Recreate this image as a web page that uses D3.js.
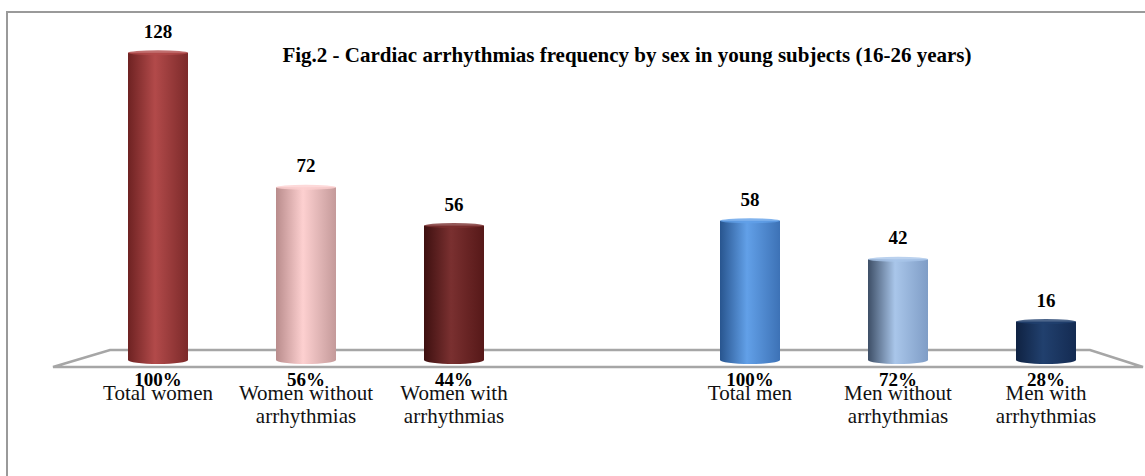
<!DOCTYPE html>
<html>
<head>
<meta charset="utf-8">
<script src="https://cdn.jsdelivr.net/npm/d3@7"></script>
<style>
  body { margin: 0; background: #fff; }
  svg { display: block; font-family: "Liberation Serif", "Times New Roman", serif; }
</style>
</head>
<body>
<svg width="1145" height="476"></svg>
<script>
// data
const categories = ["Total women", "Women without arrhythmias", "Women with arrhythmias",
                    "Total men", "Men without arrhythmias", "Men with arrhythmias"];
const counts = [128, 72, 56, 58, 42, 16];
const percents = ["100%", "56%", "44%", "100%", "72%", "28%"];
const title = "Fig.2 - Cardiac arrhythmias frequency by sex in young subjects (16-26 years)";

// colours: [edge, highlight, far edge]
const shades = [
    ["#6e2222", "#b24a4a", "#7c2a2a"],
    ["#b98c8c", "#fdd0d0", "#c49a9a"],
    ["#3e1010", "#7a3030", "#561818"],
    ["#28558f", "#62a0e8", "#3d72b6"],
    ["#3d4e66", "#a9c6ea", "#7f9dc6"],
    ["#0f2242", "#21406e", "#142b52"]
];

const svg = d3.select("svg");

// slot for each bar: empty slot between women and men
const slot = categories.map((c, i) => i < 3 ? i : i + 1);

const x = d3.scaleBand()
    .domain(d3.range(7))
    .range([84, 1120])
    .padding(0);

const y = d3.scaleLinear()
    .domain([0, 140])
    .range([360, 24]);

const barW = 60;

// frame
svg.append("path")
    .attr("d", "M7,476V12H1145")
    .attr("fill", "none")
    .attr("stroke", "#9a9a9a")
    .attr("stroke-width", 2);

// gradients
const defs = svg.append("defs");
shades.forEach((s, i) => {
    const g = defs.append("linearGradient")
        .attr("id", "grad" + i)
        .attr("x1", "0%").attr("x2", "100%");
    g.append("stop").attr("offset", "0%").attr("stop-color", s[0]);
    g.append("stop").attr("offset", "45%").attr("stop-color", s[1]);
    g.append("stop").attr("offset", "100%").attr("stop-color", s[2]);
});

// floor
const [r0, r1] = x.range();
const backY = y(0) - 10, frontY = y(0) + 7;
svg.append("polygon")
    .attr("points", [[r0 + 26, backY], [r1 - 30, backY], [r1 + 23, frontY], [r0 - 31, frontY]].join(" "))
    .attr("fill", "#fff")
    .attr("stroke", "#a6a6a6")
    .attr("stroke-width", 2.5)
    .attr("stroke-linejoin", "miter");

const cx = i => x(slot[i]) + x.bandwidth() / 2;

// cylinders
const bars = svg.selectAll(".bar")
    .data(counts)
    .enter().append("g")
    .attr("class", "bar");

bars.append("ellipse")
    .attr("cx", (d, i) => cx(i))
    .attr("cy", y(0))
    .attr("rx", barW / 2)
    .attr("ry", 4)
    .attr("fill", (d, i) => `url(#grad${i})`);

bars.append("rect")
    .attr("x", (d, i) => cx(i) - barW / 2)
    .attr("y", d => y(d))
    .attr("width", barW)
    .attr("height", d => y(0) - y(d))
    .attr("fill", (d, i) => `url(#grad${i})`);

bars.append("ellipse")
    .attr("cx", (d, i) => cx(i))
    .attr("cy", d => y(d))
    .attr("rx", barW / 2)
    .attr("ry", 2.5)
    .attr("fill", (d, i) => shades[i][1])
    .attr("opacity", 0.8);

// value labels
svg.selectAll(".val")
    .data(counts)
    .enter().append("text")
    .attr("class", "val")
    .attr("x", (d, i) => cx(i))
    .attr("y", d => y(d) - 15)
    .attr("text-anchor", "middle")
    .style("font-weight", "bold")
    .style("font-size", "19px")
    .text(d => d);

// category labels
const cat = svg.selectAll(".cat")
    .data(categories)
    .enter().append("text")
    .attr("class", "cat")
    .attr("text-anchor", "middle")
    .style("font-size", "21px")
    .attr("fill", "#111");

cat.each(function(d, i) {
    const parts = d.startsWith("Total") ? [d] : [d.replace(/ arrhythmias$/, ""), "arrhythmias"];
    d3.select(this).selectAll("tspan")
        .data(parts)
        .enter().append("tspan")
        .attr("x", cx(i))
        .attr("y", (p, j) => 400 + j * 23)
        .text(p => p);
});

// percent labels
svg.selectAll(".pct")
    .data(percents)
    .enter().append("text")
    .attr("class", "pct")
    .attr("x", (d, i) => cx(i))
    .attr("y", 386)
    .attr("text-anchor", "middle")
    .style("font-weight", "bold")
    .style("font-size", "19px")
    .text(d => d);

// title
svg.append("text")
    .attr("x", 627)
    .attr("y", 62)
    .attr("text-anchor", "middle")
    .style("font-weight", "bold")
    .style("font-size", "21px")
    .text(title);
</script>
</body>
</html>
